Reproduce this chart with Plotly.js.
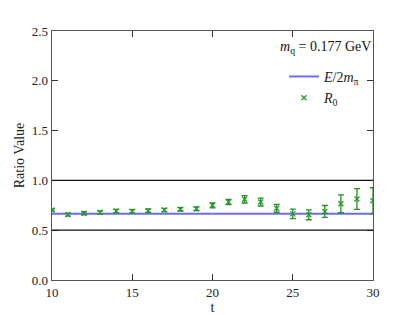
<!DOCTYPE html>
<html><head><meta charset="utf-8">
<script src="https://cdn.plot.ly/plotly-3.0.1.min.js"></script>
<style>html,body{margin:0;padding:0;background:#fff;}</style>
</head><body><div id="chart" style="width:415px;height:315px;"></div>
<script>
var t = [10,11,12,13,14,15,16,17,18,19,20,21,22,23,24,25,26,27,28,29,30];
var r0 = [0.703,0.656,0.670,0.680,0.693,0.690,0.696,0.703,0.710,0.716,0.750,0.783,0.810,0.783,0.720,0.664,0.655,0.688,0.765,0.813,0.796];
var r0Err = [0.012,0.015,0.015,0.015,0.017,0.017,0.017,0.017,0.017,0.018,0.025,0.027,0.037,0.040,0.040,0.047,0.050,0.060,0.090,0.104,0.130];
var eOver2m = 0.665;
var refLines = [0.5, 1.0];
var xRange = [10, 30];
var yRange = [0, 2.5];
var massLabel = "<i>m</i><sub>q</sub> = 0.177 GeV";

var font = "Liberation Serif, DejaVu Serif, serif";
var traces = [
  {x: xRange, y: [eOver2m, eOver2m], mode: 'lines', name: "<i>E</i>/2<i>m</i><sub>π</sub>",
   line: {color: 'rgba(60,60,240,0.75)', width: 2}},
  {x: t, y: r0, mode: 'markers', name: "<i>R</i><sub>0</sub>",
   marker: {symbol: 'x-thin-open', size: 5, color: '#2a9a2a', line: {width: 1.3, color: '#2a9a2a'}},
   error_y: {type: 'data', array: r0Err, visible: true, color: '#2a8a2a', thickness: 1.3, width: 3}}
];
var shapes = refLines.map(function(v){
  return {type: 'line', xref: 'paper', x0: 0, x1: 1, yref: 'y', y0: v, y1: v,
          line: {color: '#111', width: 1.3}};
});
var axisCommon = {showgrid: false, zeroline: false, showline: true, mirror: 'ticks',
  linecolor: '#555', linewidth: 1.3, ticks: 'inside', ticklen: 6, tickcolor: '#333',
  tickfont: {family: font, size: 13, color: '#222'}};
var layout = {
  width: 415, height: 315,
  margin: {l: 52, r: 42, t: 31, b: 35},
  paper_bgcolor: '#fff', plot_bgcolor: '#fff',
  font: {family: font, color: '#222'},
  showlegend: true,
  legend: {x: 0.975, y: 0.88, xanchor: 'right', yanchor: 'top', bgcolor: 'rgba(0,0,0,0)',
           font: {family: font, size: 14}, tracegroupgap: 2},
  xaxis: Object.assign({}, axisCommon, {range: xRange, tickvals: [10,15,20,25,30],
     title: {text: 't', font: {family: font, size: 14}, standoff: 10}}),
  yaxis: Object.assign({}, axisCommon, {range: yRange, tickvals: [0,0.5,1,1.5,2,2.5], tickformat: '.1f',
     title: {text: 'Ratio Value', font: {family: font, size: 14}, standoff: 4}}),
  shapes: shapes,
  annotations: [{xref: 'paper', yref: 'paper', x: 1.0, y: 0.975, xanchor: 'right', yanchor: 'top',
     showarrow: false, text: massLabel, font: {family: font, size: 14, color: '#111'}}]
};
Plotly.newPlot('chart', traces, layout, {displayModeBar: false, staticPlot: true});
</script></body></html>
